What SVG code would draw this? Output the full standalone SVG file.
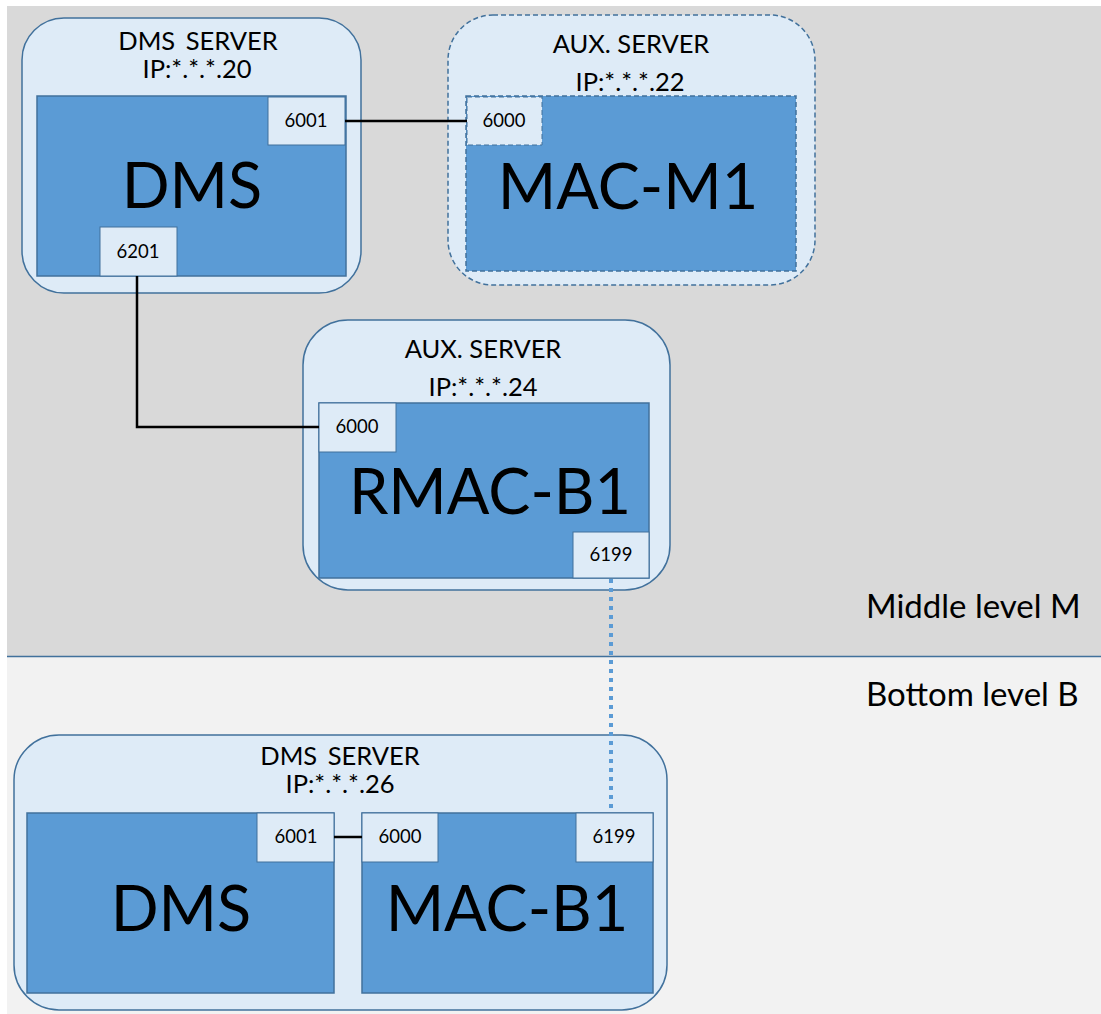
<svg xmlns="http://www.w3.org/2000/svg" width="1101" height="1014" viewBox="0 0 1101 1014">
<style>
text{font-family:Lato,"Noto Sans",sans-serif;fill:#000;text-anchor:middle}
.srv{fill:#deebf7;stroke:#41719c;stroke-width:1.5}
.app{fill:#5b9bd5;stroke:#41719c;stroke-width:1.5}
.port{fill:#deebf7;stroke:#41719c;stroke-width:1}
.dash{stroke-dasharray:5 3}
.t1{font-size:25.5px}
.ws{word-spacing:4px}
.big{font-size:63px}
.pt{font-size:18.5px}
.lvl{font-size:33px;text-anchor:start}
.wire{fill:none;stroke:#000;stroke-width:2.5}
</style>
<rect x="0" y="0" width="1101" height="1014" fill="#ffffff"/>
<rect x="7" y="6" width="1094" height="650" fill="#d9d9d9"/>
<rect x="7" y="656" width="1094" height="358" fill="#f2f2f2"/>
<line x1="7" y1="656.5" x2="1101" y2="656.5" stroke="#41719c" stroke-width="1.5"/>
<text class="lvl" x="866" y="618">Middle level M</text>
<text class="lvl" x="866" y="706">Bottom level B</text>

<g id="dms-server-20">
<rect class="srv" x="22" y="18" width="339" height="275" rx="42"/>
<text class="t1 ws" x="198" y="50">DMS SERVER</text>
<text class="t1" x="197" y="78">IP:*.*.*.20</text>
<rect class="app" x="37" y="96" width="309" height="180"/>
<text class="big" x="192" y="208">DMS</text>
<rect class="port" x="268" y="97" width="77" height="48"/>
<text class="pt" x="306" y="127">6001</text>
<rect class="port" x="100" y="227" width="77" height="49"/>
<text class="pt" x="138" y="258">6201</text>
</g>

<g id="aux-server-22">
<rect class="srv dash" x="448" y="15" width="367" height="270" rx="45"/>
<text class="t1" x="631" y="53">AUX. SERVER</text>
<text class="t1" x="630" y="91">IP:*.*.*.22</text>
<rect class="app dash" x="466" y="96" width="330" height="175"/>
<text class="big" x="628" y="209">MAC-M1</text>
<rect class="port dash" x="467" y="97" width="75" height="48"/>
<text class="pt" x="504" y="127">6000</text>
</g>

<g id="aux-server-24">
<rect class="srv" x="303" y="320" width="367" height="270" rx="45"/>
<text class="t1" x="483" y="358">AUX. SERVER</text>
<text class="t1" x="483" y="396">IP:*.*.*.24</text>
<rect class="app" x="319" y="403" width="330" height="175"/>
<text class="big" x="490" y="514">RMAC-B1</text>
<rect class="port" x="319" y="403" width="77" height="49"/>
<text class="pt" x="357" y="433">6000</text>
<rect class="port" x="573" y="532" width="76" height="46"/>
<text class="pt" x="611" y="561">6199</text>
</g>

<g id="dms-server-26">
<rect class="srv" x="14" y="735" width="653" height="275" rx="45"/>
<text class="t1 ws" x="340" y="765">DMS SERVER</text>
<text class="t1" x="340" y="793">IP:*.*.*.26</text>
<rect class="app" x="27" y="813" width="307" height="180"/>
<text class="big" x="181" y="931">DMS</text>
<rect class="app" x="362" y="813" width="291" height="180"/>
<text class="big" x="507" y="931">MAC-B1</text>
<rect class="port" x="257" y="813" width="77" height="49"/>
<text class="pt" x="296" y="843">6001</text>
<rect class="port" x="362" y="813" width="76" height="49"/>
<text class="pt" x="400" y="843">6000</text>
<rect class="port" x="576" y="813" width="77" height="49"/>
<text class="pt" x="614" y="843">6199</text>
</g>

<g id="connectors">
<line class="wire" x1="345" y1="121" x2="467" y2="121"/>
<polyline class="wire" points="137,276 137,427 319,427"/>
<line class="wire" x1="334" y1="837" x2="362" y2="837"/>
<line x1="611" y1="579" x2="611" y2="813" stroke="#5b9bd5" stroke-width="4" stroke-dasharray="4 5"/>
</g>
</svg>
